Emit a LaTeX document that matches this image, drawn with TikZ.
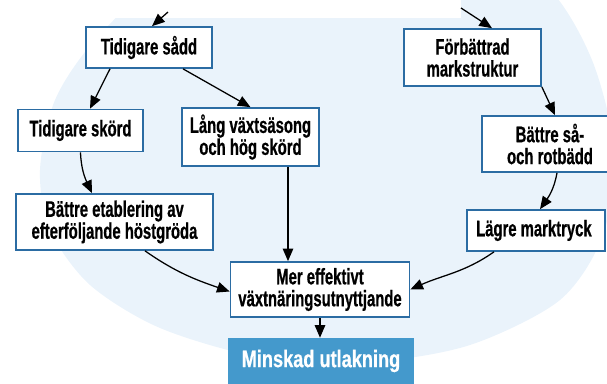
\documentclass[tikz,border=0pt]{standalone}
\usepackage{fontspec}
\setmainfont{Liberation Sans}[FakeStretch=0.66, BoldFeatures={FakeBold=0.6}]
\newfontfamily\minskadfont{Liberation Sans}[FakeStretch=0.76, BoldFeatures={FakeBold=0.6}]
\usetikzlibrary{arrows.meta,calc}

\definecolor{bgblue}{RGB}{234,243,251}
\definecolor{boxline}{RGB}{43,108,163}
\definecolor{resblue}{RGB}{68,153,204}

\tikzset{
  box/.style={draw=boxline, line width=1.2pt, fill=white, align=center, inner sep=0pt,
    font=\fontsize{16}{15.6}\selectfont\bfseries},
  arr/.style={-{Triangle[length=9pt,width=7.5pt]}, line width=0.9pt},
}

\begin{document}
\begin{tikzpicture}[x=0.025cm, y=0.025cm]
\clip (0,0) rectangle (607,-383);

% bakgrund
\fill[bgblue] plot[smooth cycle] coordinates {
(330,70) (470,52) (548,12) (592,-60) (614,-150) (603,-235) (560,-300) (470,-345)
(370,-362) (260,-357) (160,-328) (90,-285) (50,-230) (40,-170) (55,-100) (95,-40)
(170,30) (250,60)};
\fill[white] (0,0) rectangle (461,-18);

% rutor
\foreach \n/\x/\y/\w/\h/\t in {
sadd/149/47.5/126/41/{Tidigare sådd},
skord/80.5/130.5/125/42/{Tidigare skörd},
lang/250.5/137/137/58/{Lång växtsäsong\\och hög skörd},
etab/114.5/222/197/56/{Bättre etablering av\\efterföljande höstgröda},
mer/320/289.5/179/55/{Mer effektivt\\växtnäringsutnyttjande},
forb/472.5/57.5/137/57/{Förbättrad\\markstruktur},
battre/550/144/136/56/{Bättre så-\\och rotbädd},
lagre/536/230.5/138.5/41/{Lägre marktryck}
}
{
\node[box, minimum width=\w*0.025cm, minimum height=\h*0.025cm] (\n) at (\x,-\y) {\t};
}
\node[fill=resblue, text=white, inner sep=0pt, minimum width=186*0.025cm, minimum height=46*0.025cm,
  font=\minskadfont\fontsize{17}{16}\selectfont\bfseries] (minskad) at (321,-361) {Minskad utlakning};

% pilar
\coordinate (inL) at (168,-12);
\coordinate (inR) at (461,-8);
\draw[arr] (inL) -- ($(sadd.north)+(3,0)$);
\draw[arr] ($(sadd.south)+(-39,0)$) -- ($(skord.north)+(9.5,0)$);
\draw[arr] ($(sadd.south)+(34,0)$) -- (lang.north);
\draw[arr] (skord.south) to[out=-88, in=115] ($(etab.north)+(-22.5,0)$);
\draw[arr] ($(lang.south)+(37.5,0)$) coordinate (l1) -- (l1 |- mer.north);
\draw[arr] ($(etab.south)+(30.5,0)$) to[out=-35, in=161] ($(mer.west)+(0,-2)$);
\draw[arr] (inR) -- ($(forb.north)+(19.5,0)$);
\draw[arr] (forb.south east) -- ($(battre.north)+(5,0)$);
\draw[arr] ($(battre.south)+(7,0)$) to[out=-100, in=55] ($(lagre.north)+(4,0)$);
\draw[arr] ($(lagre.south)+(-42,0)$) to[out=-145, in=24] (mer.east);
\draw[arr] (mer.south) -- (mer.south |- minskad.north);
\end{tikzpicture}
\end{document}
